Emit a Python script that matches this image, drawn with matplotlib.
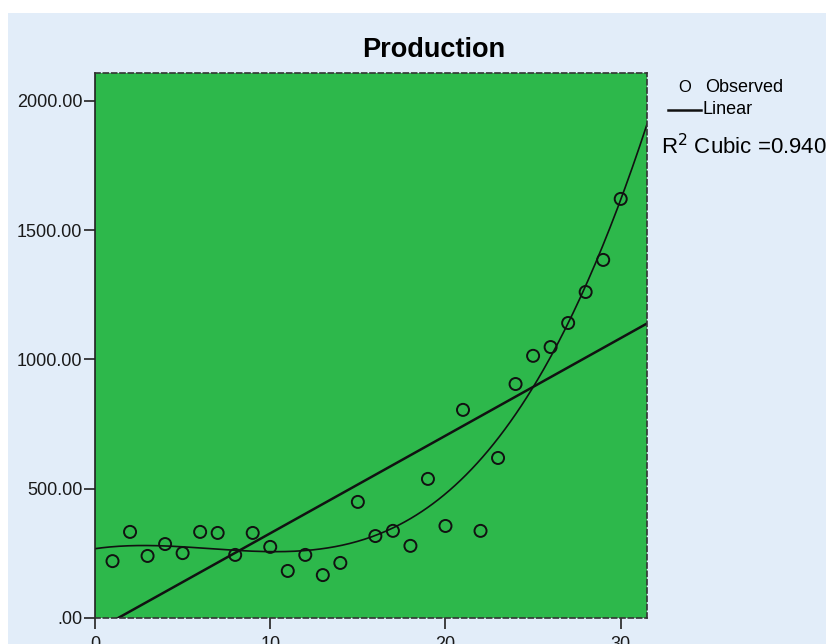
import numpy as np
import matplotlib.pyplot as plt
from matplotlib.patches import Rectangle
from matplotlib.lines import Line2D

plt.rcParams['font.family'] = ['Liberation Sans', 'DejaVu Sans']

# observed data
period = list(range(1, 31))
production = [220, 333, 240, 286, 251, 333, 329, 244, 329, 275,
              182, 244, 166, 213, 449, 317, 337, 279, 538, 356,
              805, 337, 619, 905, 1014, 1048, 1141, 1261, 1385, 1621]
y_ticks = [0, 500, 1000, 1500, 2000]
y_tick_labels = ['.00', '500.00', '1000.00', '1500.00', '2000.00']
x_ticks = [0, 10, 20, 30]

x = np.array(period, dtype=float)
y = np.array(production, dtype=float)
lin = np.polyfit(x, y, 1)
cub = np.polyfit(x, y, 3)

fig = plt.figure(figsize=(8.28, 6.44), dpi=100)
fig.patch.set_facecolor('white')
fig.patches.append(Rectangle((8 / 828, 0), 818 / 828, 631 / 644,
                             transform=fig.transFigure, facecolor='#e2edf9',
                             edgecolor='none', zorder=-5))

ax = fig.add_axes([95 / 828, 26 / 644, 552 / 828, 545 / 644])
ax.set_zorder(2)
ax.set_facecolor('#2db84b')
ax.set_xlim(0, 31.5)
ax.set_ylim(0, 2108)

xs = np.linspace(0, 31.5, 300)
ax.plot(xs, np.polyval(lin, xs), color='#111111', lw=1.8)
ax.plot(xs, np.polyval(cub, xs), color='#111111', lw=1.2)
ax.scatter(x, y, s=75, facecolors='none', edgecolors='#111111', linewidths=1.4, zorder=3)

for s in ax.spines.values():
    s.set_linestyle((0, (3, 2)))
    s.set_color('#333333')
    s.set_linewidth(1.2)
ax.spines['left'].set_linestyle('-')
ax.spines['left'].set_color('#222222')

ax.set_yticks(y_ticks)
ax.set_yticklabels(y_tick_labels)
ax.set_xticks(x_ticks)
ax.tick_params(direction='out', length=8, width=1.2, color='#222222',
               labelsize=13, labelcolor='#1a1a1a')
ax.tick_params(axis='y', pad=1)
ax.tick_params(axis='x', pad=5)

fig.text(434 / 828, 1 - 50 / 644, 'Production', fontsize=19.5, fontweight='bold',
         ha='center', va='center')

fig.text(685 / 828, 1 - 87 / 644, 'O', fontsize=12, ha='center', va='center')
fig.text(705 / 828, 1 - 87 / 644, 'Observed', fontsize=13, va='center')
fig.add_artist(Line2D([668 / 828, 701 / 828], [1 - 110 / 644, 1 - 110 / 644],
                      color='#111111', lw=1.8, transform=fig.transFigure))
fig.text(703 / 828, 1 - 110 / 644, 'Linear', fontsize=13, va='center')
fig.text(661 / 828, 1 - 147 / 644, 'R$^2$ Cubic =0.940', fontsize=16, va='center')

fig.savefig('out.png', dpi=100, facecolor=fig.get_facecolor())
